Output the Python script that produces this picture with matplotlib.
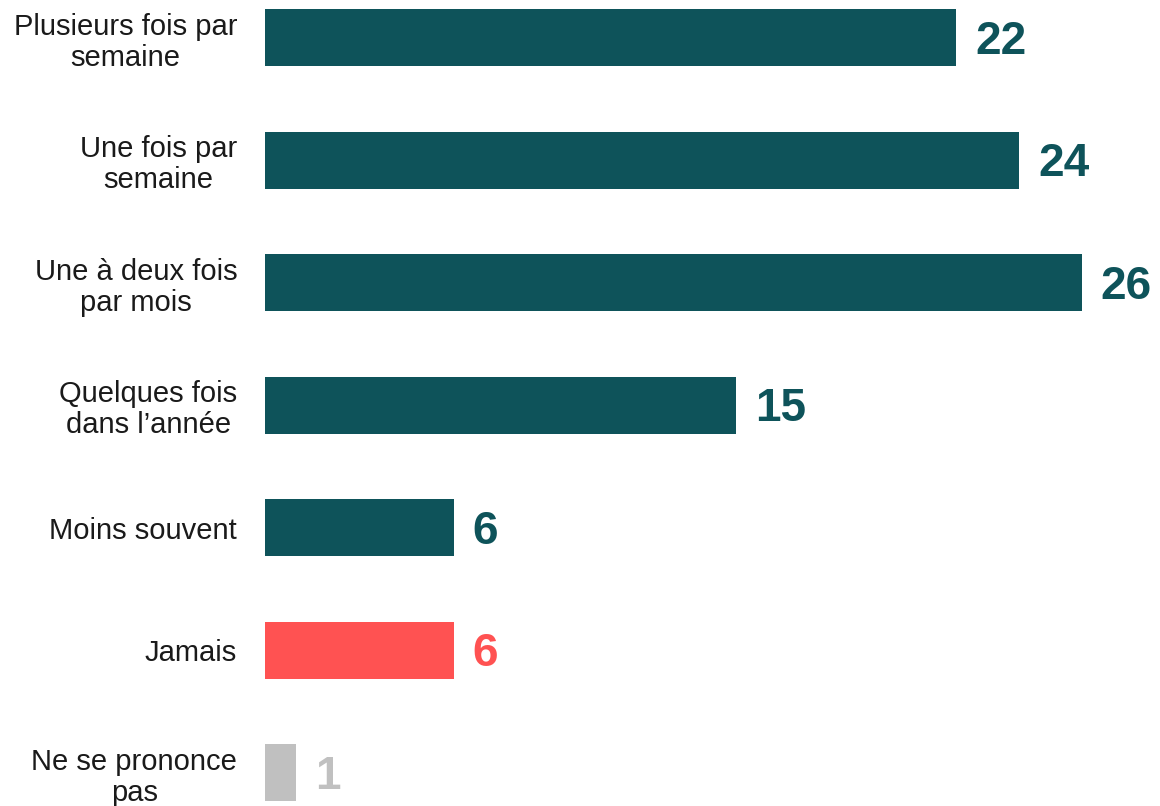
import matplotlib.pyplot as plt

# Data
categories = [
    "Plusieurs fois par\nsemaine",
    "Une fois par\nsemaine",
    "Une à deux fois\npar mois",
    "Quelques fois\ndans l\u2019année",
    "Moins souvent",
    "Jamais",
    "Ne se prononce\npas",
]
values = [22, 24, 26, 15, 6, 6, 1]
colors = ["#0E535A"] * 5 + ["#FF5252", "#C0C0C0"]

plt.rcParams['font.family'] = ['Liberation Sans', 'DejaVu Sans']

fig = plt.figure(figsize=(11.6, 8.06), dpi=100)
ax = fig.add_axes([265 / 1160, 0, 1 - 265 / 1160, 1])

y = list(range(len(categories)))
ax.barh(y, values, height=0.465, color=colors)

# value labels next to each bar
for i, v in enumerate(values):
    ax.text(v + 0.6, i + 0.03, str(v), va='center', ha='left',
            fontsize=33, fontweight='bold', color=colors[i])

ax.set_xlim(0, (1160 - 265) / 31.42)
ax.set_ylim(6.27, -0.31)
ax.set_yticks(y)
ax.set_yticklabels(categories, fontsize=21, color='#1a1a1a', ha='right',
                   multialignment='center', linespacing=1.13)
ax.tick_params(axis='y', length=0, pad=20)
ax.set_xticks([])
for s in ax.spines.values():
    s.set_visible(False)

fig.savefig('out.png', dpi=100)
